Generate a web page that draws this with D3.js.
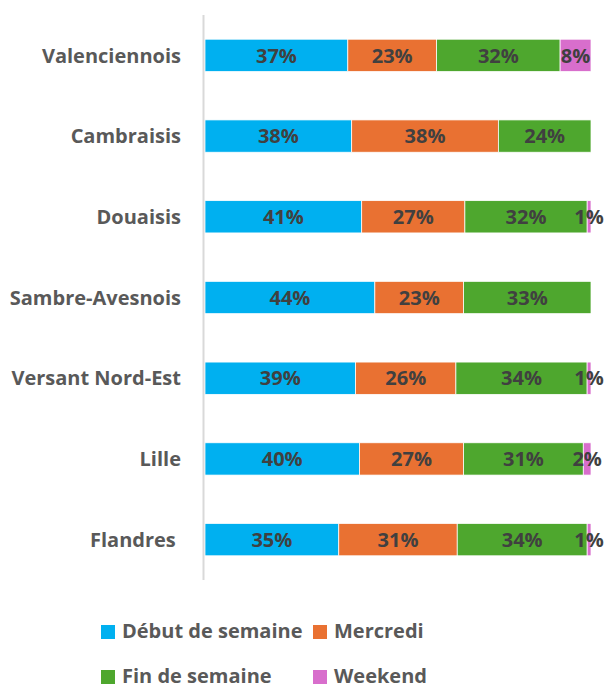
<html>
<head>
<meta charset="utf-8">
<style>
  body { margin: 0; background: #fff; }
</style>
</head>
<body>
<div id="chartContainer"></div>
<script src="https://cdnjs.cloudflare.com/ajax/libs/d3/7.8.5/d3.min.js"></script>
<script type="text/javascript">
  // regions, top to bottom
  var regions = ["Valenciennois", "Cambraisis", "Douaisis", "Sambre-Avesnois", "Versant Nord-Est", "Lille", "Flandres "];
  // series (percent, as labelled)
  var seriesNames = ["Début de semaine", "Mercredi", "Fin de semaine", "Weekend"];
  var debutSemaine = [37, 38, 41, 44, 39, 40, 35];
  var mercredi = [23, 38, 27, 23, 26, 27, 31];
  var finSemaine = [32, 24, 32, 33, 34, 31, 34];
  var weekend = [8, 0, 1, 0, 1, 2, 1];
  var colors = ["#00b0f0", "#e97132", "#4ea72e", "#d86ecc"];

  var width = 606, height = 684;
  var font = "'Open Sans', sans-serif";

  var svg = d3.select("#chartContainer").append("svg")
    .attr("width", width)
    .attr("height", height);

  var y = d3.scaleBand()
    .domain(regions)
    .range([15, 580])
    .paddingInner(0.6)
    .paddingOuter(0.3);

  // 100% stacked: each row is normalised by its own total
  var x = d3.scaleLinear().domain([0, 1]).range([205, 591]);

  var rows = regions.map(function (r, i) {
    return { region: r, values: [debutSemaine[i], mercredi[i], finSemaine[i], weekend[i]] };
  });

  var segs = [];
  rows.forEach(function (row) {
    var total = d3.sum(row.values);
    var acc = 0;
    row.values.forEach(function (v, k) {
      if (v > 0) {
        segs.push({ region: row.region, k: k, v: v, x0: acc / total, x1: (acc + v) / total });
      }
      acc += v;
    });
  });

  // bars
  svg.append("g").selectAll("rect")
    .data(segs)
    .enter()
    .append("rect")
      .attr("x", function (d) { return x(d.x0); })
      .attr("y", function (d) { return y(d.region); })
      .attr("width", function (d) { return x(d.x1) - x(d.x0); })
      .attr("height", y.bandwidth())
      .style("fill", function (d) { return colors[d.k]; })
      .style("stroke", "#ffffff")
      .style("stroke-width", 0.75);

  // data labels
  svg.append("g").selectAll("text")
    .data(segs)
    .enter()
    .append("text")
      .attr("x", function (d) { return (x(d.x0) + x(d.x1)) / 2; })
      .attr("y", function (d) { return y(d.region) + y.bandwidth() / 2; })
      .attr("dy", "0.36em")
      .attr("text-anchor", "middle")
      .style("font-family", font)
      .style("font-weight", "bold")
      .style("font-size", "20px")
      .style("fill", "#404040")
      .text(function (d) { return d.v + "%"; });

  // vertical axis line
  svg.append("line")
    .attr("x1", 203.5).attr("x2", 203.5)
    .attr("y1", 15).attr("y2", 580)
    .style("stroke", "#d9d9d9")
    .style("stroke-width", 2);

  // category labels
  svg.append("g").selectAll("text")
    .data(regions)
    .enter()
    .append("text")
      .attr("x", 181)
      .attr("y", function (d) { return y(d) + y.bandwidth() / 2; })
      .attr("dy", "0.36em")
      .attr("text-anchor", "end")
      .style("font-family", font)
      .style("font-weight", "bold")
      .style("font-size", "20px")
      .style("fill", "#595959")
      .style("white-space", "pre")
      .text(function (d) { return d; });

  // legend
  var legendPos = [[101, 631], [313, 631], [101, 676], [313, 676]];
  var legend = svg.append("g").selectAll("g")
    .data(seriesNames)
    .enter()
    .append("g")
      .attr("transform", function (d, i) { return "translate(" + legendPos[i][0] + "," + legendPos[i][1] + ")"; });

  legend.append("rect")
    .attr("x", 0)
    .attr("y", -6)
    .attr("width", 14)
    .attr("height", 14)
    .style("fill", function (d, i) { return colors[i]; });

  legend.append("text")
    .attr("x", 21)
    .attr("y", 0)
    .attr("dy", "0.36em")
    .style("font-family", font)
    .style("font-weight", "bold")
    .style("font-size", "20px")
    .style("fill", "#595959")
    .text(function (d) { return d; });
</script>
</body>
</html>
